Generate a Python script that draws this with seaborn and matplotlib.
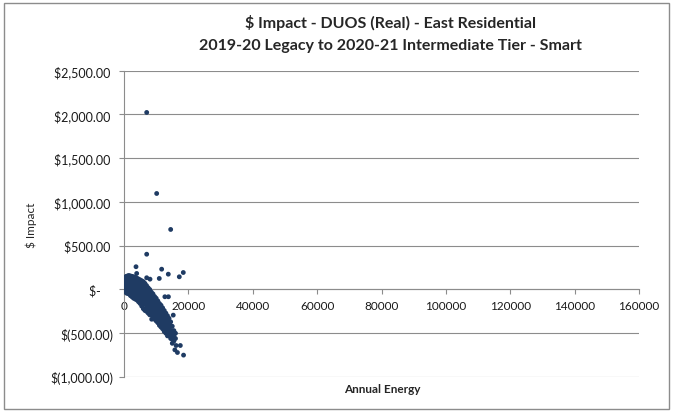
import matplotlib
matplotlib.use("Agg")
import matplotlib.pyplot as plt
import seaborn as sns
import pandas as pd
from matplotlib.patches import Rectangle
from matplotlib.ticker import FuncFormatter

# main dense cluster, column by column (annual energy -> list of $ impacts)
cluster_energy = [0, 300, 700, 1100, 1500, 2000, 2500, 3000, 3500, 4000, 4500, 5000,
                  5500, 6000, 6500, 7000, 7500, 8000, 8500, 9000, 9500, 10000, 10500,
                  11000, 11500, 12000, 12500, 13000, 13500, 14000, 14500, 15000, 15500, 16000]
cluster_impacts = [
    [130, 90, 50, 10, -20],
    [140, 100, 60, 20, -20],
    [150, 110, 70, 30, -10, -40],
    [155, 115, 75, 35, -5, -45],
    [160, 120, 80, 40, 0, -50],
    [155, 115, 75, 35, -5, -45, -70],
    [150, 110, 70, 30, -10, -50, -85],
    [145, 105, 65, 25, -15, -55, -100],
    [140, 100, 60, 20, -20, -60, -110],
    [130, 90, 50, 10, -30, -70, -120],
    [120, 80, 40, 0, -40, -90, -140],
    [110, 70, 30, -10, -50, -100, -160],
    [100, 60, 20, -30, -80, -130, -190],
    [90, 45, 0, -50, -100, -150, -220],
    [70, 25, -20, -70, -120, -170, -240],
    [45, 0, -45, -95, -145, -200, -250],
    [20, -25, -75, -125, -175, -230, -270],
    [0, -50, -100, -150, -200, -250, -290],
    [-30, -80, -130, -180, -230, -280],
    [-50, -100, -150, -200, -250, -300, -330],
    [-80, -130, -180, -230, -280, -340],
    [-100, -150, -200, -250, -300, -360],
    [-130, -180, -230, -280, -330, -380],
    [-160, -210, -260, -310, -360, -410],
    [-180, -230, -280, -330, -380, -430],
    [-210, -260, -310, -360, -410, -450],
    [-240, -290, -340, -390, -440, -480],
    [-270, -320, -370, -420, -470, -500],
    [-300, -350, -400, -450, -500, -530],
    [-330, -380, -430, -480, -530],
    [-370, -420, -470, -520, -560],
    [-420, -470, -520, -570],
    [-470, -530, -590],
    [-500, -560],
]

# scattered points outside the dense band
outlier_energy = [7050, 10150, 14500, 7050, 3730, 11700, 10960, 13760, 17180, 18420,
                  8080, 3940, 7050, 12700, 13800, 15300, 8600,
                  15000, 16600, 18500, 17500, 16200, 15800]
outlier_impact = [2023, 1097, 686, 403, 260, 232, 126, 175, 145, 194,
                  118, 183, 134, -83, -83, -293, -340,
                  -615, -720, -750, -640, -640, -690]

energy = []
impact = []
for x, ys in zip(cluster_energy, cluster_impacts):
    for y in ys:
        energy.append(x)
        impact.append(y)
energy += outlier_energy
impact += outlier_impact
df = pd.DataFrame({"Annual Energy": energy, "$ Impact": impact})

sns.set_style("white")
plt.rcParams["font.family"] = ["Lato", "DejaVu Sans"]

fig = plt.figure(figsize=(6.73, 4.14), dpi=100)
ax = fig.add_axes([124 / 673, 1 - 378 / 414, (639 - 124) / 673, (378 - 71.7) / 414])

sns.scatterplot(data=df, x="Annual Energy", y="$ Impact", ax=ax, color="#1f3b63",
                s=12, marker="o", edgecolor="none", linewidth=0, zorder=3)

ax.set_xlim(0, 160000)
ax.set_ylim(-1000, 2500)
ax.set_xticks(range(0, 160001, 20000))
ax.set_yticks(range(-1000, 2501, 500))


def money(v, pos):
    if v == 0:
        return "$-    "
    if v < 0:
        return "$({:,.2f})".format(-v)
    return "${:,.2f} ".format(v)


ax.yaxis.set_major_formatter(FuncFormatter(money))
ax.grid(axis="y", color="#8c8c8c", linewidth=0.8)
ax.grid(axis="x", visible=False)

for side in ["top", "right"]:
    ax.spines[side].set_visible(False)
ax.spines["bottom"].set_position(("data", 0))
ax.spines["bottom"].set_color("#8c8c8c")
ax.spines["left"].set_color("#8c8c8c")
ax.spines["bottom"].set_zorder(1)
ax.tick_params(axis="both", which="major", length=3.5, width=0.8, color="#8c8c8c",
               labelcolor="#1a1a1a", direction="out", bottom=True, left=True)
ax.tick_params(axis="y", labelsize=9, pad=4)
ax.tick_params(axis="x", labelsize=8.5, pad=4)

ax.set_xlabel("")
ax.set_ylabel("")
fig.text(390 / 673, 1 - 23 / 414, "$ Impact - DUOS (Real) - East Residential",
         ha="center", va="center", fontsize=11.5, fontweight="bold")
fig.text(390 / 673, 1 - 46 / 414, "2019-20 Legacy to 2020-21 Intermediate Tier - Smart",
         ha="center", va="center", fontsize=11.5, fontweight="bold")
fig.text(382 / 673, 1 - 390 / 414, "Annual Energy", ha="center", va="center",
         fontsize=8.5, fontweight="bold")
fig.text(31 / 673, 1 - 225 / 414, "$ Impact", ha="center", va="center",
         fontsize=8.5, rotation=90)

fig.patches.append(Rectangle((4 / 673, 4 / 414), 665 / 673, 406 / 414,
                             transform=fig.transFigure, fill=False,
                             edgecolor="#8c8c8c", linewidth=1.0))

fig.savefig("out.png", dpi=100)
